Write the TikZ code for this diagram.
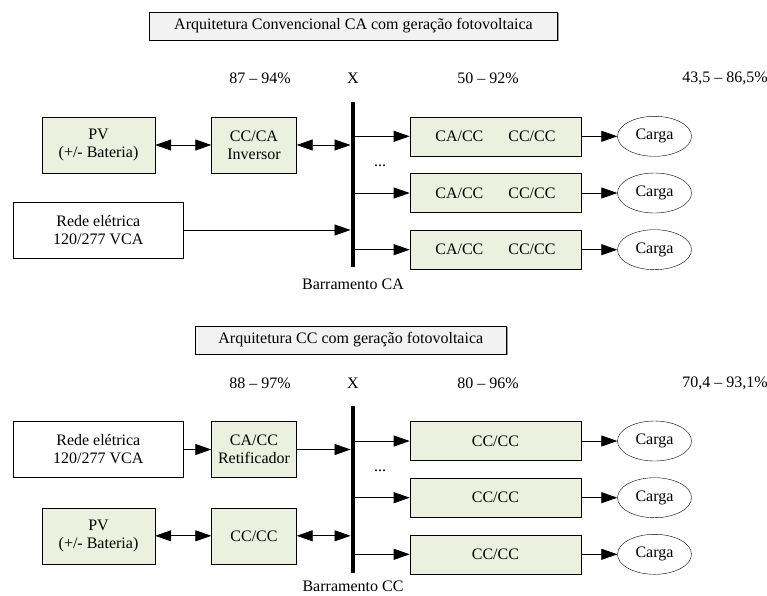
\documentclass[tikz,border=0pt]{standalone}
\usepackage{fontspec}
\setmainfont{Liberation Serif}
\usepackage{xcolor}
\usetikzlibrary{shapes.geometric, arrows.meta, positioning, calc, shadows}

\definecolor{verdeconv}{RGB}{235,241,222}
\definecolor{cinzatitulo}{RGB}{242,242,242}

\begin{document}
\begin{tikzpicture}[x=1pt,y=-1pt,font=\fontsize{16}{18}\selectfont,
    bloco/.style={draw,fill=verdeconv,align=center,inner sep=0pt,minimum height=56pt},
    fonte/.style={draw,fill=white,align=center,inner sep=0pt,minimum width=170pt,minimum height=56pt},
    conversor/.style={draw,fill=verdeconv,inner sep=0pt,minimum width=171pt,minimum height=39pt},
    titulo/.style={draw,fill=cinzatitulo,inner sep=0pt,minimum height=28pt,
      drop shadow={shadow xshift=1.2pt,shadow yshift=-1.2pt,fill=gray,opacity=0.8}},
    carga/.style={draw,ellipse,inner sep=0pt,minimum width=74pt,minimum height=40pt},
    barra/.style={fill=black,inner sep=0pt,minimum width=4.5pt},
    seta/.style={line width=0.8pt,-{Triangle[length=16pt,width=11pt]}},
    dupla/.style={line width=0.8pt,{Triangle[length=16pt,width=11pt]}-{Triangle[length=16pt,width=11pt]}}]

      \useasboundingbox (0,0) rectangle (767,595);
      \def\gap{\hspace{25pt}}

      \node[titulo,minimum width=408pt] (tituloCA) at (353.5,25.8) {Arquitetura Convencional CA com geração fotovoltaica};

      \node (efInvCA) at (260,78) {87 -- 94\%};
      \node (xCA) at (353,78) {X};
      \node (efConvCA) at (488,78) {50 -- 92\%};
      \node (efTotCA) at (725,78) {43,5 -- 86,5\%};

      \node[bloco,minimum width=113pt] (pvCA) at (98.5,145) {PV\\(+/- Bateria)};
      \node[bloco,minimum width=85pt] (invCA) at (254,145) {CC/CA\\Inversor};
      \node[fonte] (redeCA) at (98.3,230) {Rede elétrica\\120/277 VCA};
      \node[barra,minimum height=165pt] (barraCA) at (353,184.5) {};
      \node (nomeCA) at (353,284) {Barramento CA};
      \node (pontosCA) at (380,166) {...};

      \node[conversor] (convCA1) at (495.4,136.3) {CA/CC\gap CC/CC};
      \node[conversor] (convCA2) at (495.4,193) {CA/CC\gap CC/CC};
      \node[conversor] (convCA3) at (495.4,249.7) {CA/CC\gap CC/CC};
      \node[carga] (cargaCA1) at (654.5,136.3) {Carga};
      \node[carga] (cargaCA2) at (654.5,193) {Carga};
      \node[carga] (cargaCA3) at (654.5,249.7) {Carga};

      \draw[dupla] (pvCA) -- (invCA);
      \draw[dupla] (invCA) -- (invCA -| barraCA.west);
      \draw[seta] (redeCA) -- (redeCA -| barraCA.west);
      \draw[seta] (barraCA.east |- convCA1) -- (convCA1);
      \draw[seta] (barraCA.east |- convCA2) -- (convCA2);
      \draw[seta] (barraCA.east |- convCA3) -- (convCA3);
      \draw[seta] (convCA1) -- (cargaCA1);
      \draw[seta] (convCA2) -- (cargaCA2);
      \draw[seta] (convCA3) -- (cargaCA3);

      \node[titulo,minimum width=311.7pt] (tituloCC) at (350.8,340) {Arquitetura CC com geração fotovoltaica};

      \node (efRetCC) at (260,383) {88 -- 97\%};
      \node (xCC) at (353,383) {X};
      \node (efConvCC) at (488,383) {80 -- 96\%};
      \node (efTotCC) at (725,383) {70,4 -- 93,1\%};

      \node[fonte] (redeCC) at (98.3,449.5) {Rede elétrica\\120/277 VCA};
      \node[bloco,minimum width=85pt] (retCC) at (254,449.5) {CA/CC\\Retificador};
      \node[bloco,minimum width=113pt] (pvCC) at (98.5,535.8) {PV\\(+/- Bateria)};
      \node[bloco,minimum width=85pt] (ccCC) at (254,535.8) {CC/CC};
      \node[barra,minimum height=167pt] (barraCC) at (353,489.7) {};
      \node (nomeCC) at (353,586.7) {Barramento CC};
      \node (pontosCC) at (380,471) {...};

      \node[conversor] (convCC1) at (495.4,441) {CC/CC};
      \node[conversor] (convCC2) at (495.4,497.7) {CC/CC};
      \node[conversor] (convCC3) at (495.4,554.3) {CC/CC};
      \node[carga] (cargaCC1) at (654.5,441) {Carga};
      \node[carga] (cargaCC2) at (654.5,497.7) {Carga};
      \node[carga] (cargaCC3) at (654.5,554.3) {Carga};

      \draw[seta] (redeCC) -- (retCC);
      \draw[seta] (retCC) -- (retCC -| barraCC.west);
      \draw[dupla] (pvCC) -- (ccCC);
      \draw[dupla] (ccCC) -- (ccCC -| barraCC.west);
      \draw[seta] (barraCC.east |- convCC1) -- (convCC1);
      \draw[seta] (barraCC.east |- convCC2) -- (convCC2);
      \draw[seta] (barraCC.east |- convCC3) -- (convCC3);
      \draw[seta] (convCC1) -- (cargaCC1);
      \draw[seta] (convCC2) -- (cargaCC2);
      \draw[seta] (convCC3) -- (cargaCC3);
    \end{tikzpicture}
\end{document}
